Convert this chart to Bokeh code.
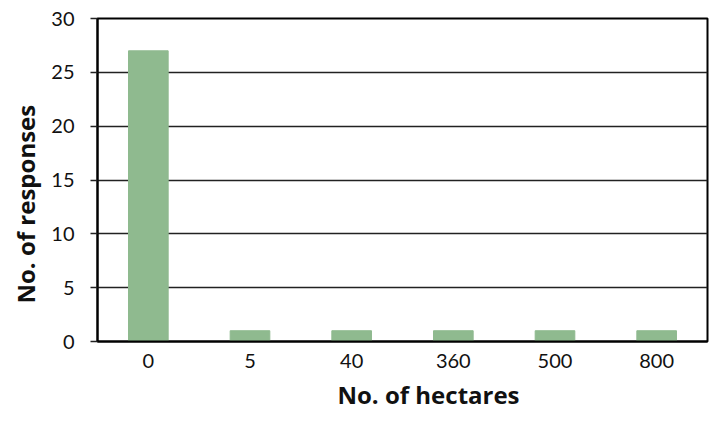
from bokeh.plotting import figure
from bokeh.models import Range1d, SingleIntervalTicker, Title
from bokeh.embed import file_html
from bokeh.resources import INLINE

categories = ["0", "5", "40", "360", "500", "800"]
responses = [27, 1, 1, 1, 1, 1]

p = figure(x_range=categories, y_range=Range1d(0, 30), width=719, height=428,
           output_backend="svg", toolbar_location=None,
           min_border_left=95, min_border_right=12, min_border_top=18, min_border_bottom=87)
p.x_range.range_padding = 0
p.vbar(x=categories, top=responses, width=0.39, fill_color="#8FBA8F", line_color="#8FBA8F")

p.outline_line_color = "black"
p.outline_line_width = 2
p.xgrid.grid_line_color = None
p.ygrid.grid_line_color = "#222222"
p.ygrid.grid_line_width = 1.5

p.yaxis.ticker = SingleIntervalTicker(interval=5)
p.yaxis.minor_tick_line_color = None
p.yaxis.major_tick_out = 7
p.yaxis.major_tick_in = 0
p.yaxis.major_tick_line_color = "#222222"
p.yaxis.major_tick_line_width = 1.5
p.yaxis.axis_line_color = "black"
p.yaxis.axis_line_width = 2
p.yaxis.major_label_standoff = 16

p.xaxis.major_tick_line_color = None
p.xaxis.minor_tick_line_color = None
p.xaxis.axis_line_color = "black"
p.xaxis.axis_line_width = 2
p.xaxis.major_label_standoff = 6

for ax in (p.xaxis, p.yaxis):
    ax.major_label_text_font = "Lato"
    ax.major_label_text_font_size = "20px"
    ax.major_label_text_color = "#111111"

lab_style = dict(text_font="Open Sans", text_font_size="24px", text_font_style="bold",
                 text_color="#111111")
ylab = Title(text="No. of responses", align="left", offset=38, standoff=13, **lab_style)
p.add_layout(ylab, "left")
xlab = Title(text="No. of hectares", align="left", offset=240, standoff=10, **lab_style)
p.add_layout(xlab, "below")

open("out.html", "w").write(file_html(p, INLINE))
